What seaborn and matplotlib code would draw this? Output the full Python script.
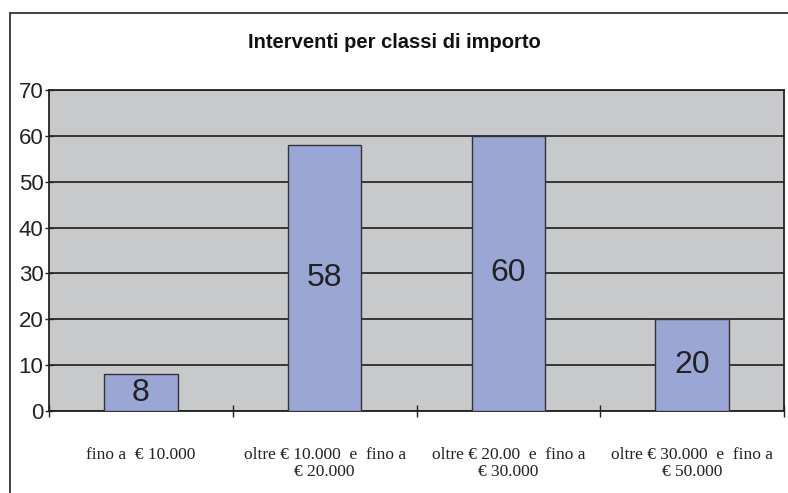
import numpy as np
import pandas as pd
import seaborn as sns
import matplotlib.pyplot as plt
from matplotlib.lines import Line2D

# data
categories = ['fino a  € 10.000',
              'oltre € 10.000  e  fino a\n€ 20.000',
              'oltre € 20.00  e  fino a\n€ 30.000',
              'oltre € 30.000  e  fino a\n€ 50.000']
values = [8, 58, 60, 20]
y_ticks = [0, 10, 20, 30, 40, 50, 60, 70]

df = pd.DataFrame({'classe': categories, 'interventi': values})

sns.set_style('white')
plt.rcParams['font.family'] = ['Liberation Sans', 'DejaVu Sans']

fig = plt.figure(figsize=(7.88, 4.93), dpi=100)
ax = fig.add_axes([49/788, 1 - 411/493, (784 - 49)/788, (411 - 90)/493])
ax.set_facecolor('#c8c9cb')

sns.barplot(data=df, x='classe', y='interventi', ax=ax, color='#9aa6d4',
            saturation=1, width=0.4, edgecolor='#333333', linewidth=1.0, zorder=3)

ax.bar_label(ax.containers[0], labels=[str(v) for v in values], label_type='center',
             fontsize=23, color='#222222', zorder=4)

ax.set_ylim(0, 70)
ax.set_xlim(-0.5, 3.5)
ax.set_yticks(y_ticks)
ax.yaxis.grid(True, color='#2a2a2a', linewidth=1.3, zorder=1)
ax.set_axisbelow(True)
ax.tick_params(axis='y', labelsize=16, length=6, width=1, direction='inout',
               pad=1, colors='#222222', left=True)

# category labels centered, tick marks at category boundaries
ax.set_xticks(np.arange(-0.5, 4.0, 1.0))
ax.set_xticklabels([])
ax.set_xticks(np.arange(len(categories)), minor=True)
ax.set_xticklabels(categories, minor=True, fontsize=12.5, family='Liberation Serif',
                   color='#222222', linespacing=1.05)
ax.tick_params(axis='x', which='major', length=8, width=1, direction='inout', colors='#222222', bottom=True)
ax.tick_params(axis='x', which='minor', length=0, pad=26)
ax.set_xlabel('')
ax.set_ylabel('')

for side in ['left', 'right', 'top', 'bottom']:
    ax.spines[side].set_visible(True)
    ax.spines[side].set_color('#222222')
    ax.spines[side].set_linewidth(1.3)

fig.text(0.5, 1 - 43/493, 'Interventi per classi di importo', ha='center', va='center',
         fontsize=14.5, fontweight='bold', color='#111111')

# outer chart frame: only top and left edges show in the scan
top = 1 - 13/493
left = 10/788
fig.lines.append(Line2D([left, 1.0], [top, top], transform=fig.transFigure,
                        color='#333333', linewidth=1.3))
fig.lines.append(Line2D([left, left], [0.0, top], transform=fig.transFigure,
                        color='#333333', linewidth=1.3))

fig.savefig('out.png', dpi=100)
